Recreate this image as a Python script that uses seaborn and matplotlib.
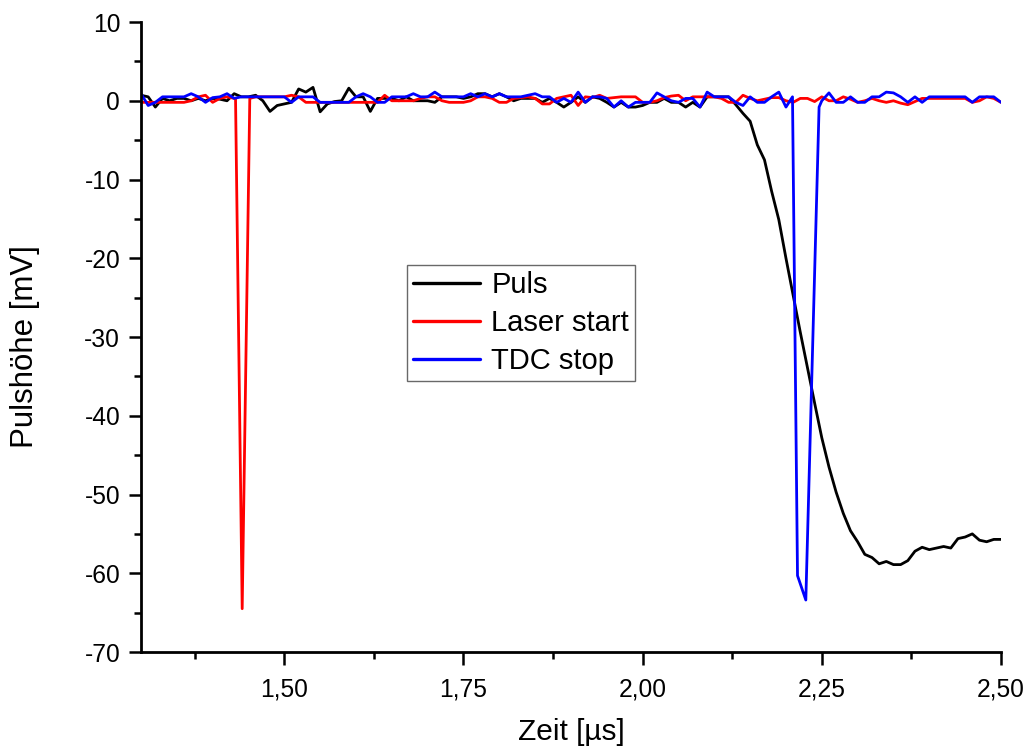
import numpy as np
import pandas as pd
import matplotlib
matplotlib.use("Agg")
import matplotlib.pyplot as plt
import seaborn as sns
from matplotlib.ticker import FuncFormatter, MultipleLocator

# sampling grid of the scope traces (µs)
T_START = 1.30
T_STEP = 0.01

# Puls (black), 1.30 ... 2.50 µs
puls = [
    0.7, 0.5, -0.8, 0.3, 0.0, 0.3, 0.3, 0.0, 0.3, 0.0,
    0.3, 0.2, 0.0, 0.9, 0.5, 0.5, 0.7, 0.0, -1.35, -0.6,
    -0.4, -0.2, 1.5, 1.1, 1.7, -1.4, -0.4, -0.1, 0.0, 1.6,
    0.5, 0.5, -1.35, 0.3, 0.3, 0.3, 0.0, 0.5, 0.0, 0.0,
    0.0, -0.2,
    0.5, 0.5, 0.5, 0.3, 0.5, 0.9, 0.9, 0.5, 0.9, 0.5,
    0.0, 0.3, 0.3, 0.3, -0.2, 0.3, -0.2, -0.8, -0.2, 0.5,
    -0.2, 0.5, 0.3, -0.2, -0.8, -0.2, -0.8, -0.8, -0.6, -0.2,
    -0.2, 0.3, -0.2, -0.2, -0.8, -0.2, -0.8, 0.5, 0.5, 0.5,
    0.5,
    -0.5, -1.6, -2.6, -5.6, -7.5, -11.5, -15.1, -20.0, -24.7, -29.4,
    -33.9, -38.4, -42.8, -46.5, -49.7, -52.4, -54.6, -56.0, -57.6, -58.0,
    -58.8, -58.5, -58.9, -58.9, -58.4, -57.2, -56.7, -57.0, -56.8, -56.6,
    -56.8, -55.6, -55.4, -55.0, -55.8, -56.0, -55.7, -55.7,
]

# Laser start (red); None where the spike samples below take over
laser = [
    -0.2, -0.2, -0.2, -0.2, -0.2, -0.2, -0.2, 0.0, 0.5, 0.7,
    -0.2, 0.3, 0.5, 0.3, None, None, 0.5, 0.5, 0.5, 0.5,
    0.5, 0.7, 0.5, -0.2, -0.2, -0.2, -0.2, -0.2, -0.2, -0.2,
    -0.2, -0.2, -0.2, -0.2, 0.7, 0.0, 0.0, 0.0, 0.0, 0.3,
    0.5, 0.5,
    0.0, -0.2, -0.2, -0.2, 0.0, 0.5, 0.5, 0.3, -0.2, -0.2,
    0.3, 0.4, 0.5, 0.3, -0.4, -0.4, 0.3, 0.5, 0.7, -0.6,
    0.5, 0.4, 0.7, 0.3, 0.4, 0.5, 0.5, 0.5, -0.2, -0.2,
    0.0, 0.4, 0.6, 0.7, 0.0, 0.5, 0.5, 0.5, 0.5, 0.3,
    -0.2,
    -0.2, 0.7, 0.3, 0.0, 0.2, 0.4, 0.4, 0.0, -0.2, 0.3,
    0.3, -0.1, 0.5, 0.0, 0.0, 0.5, 0.2, -0.2, 0.0, 0.3,
    0.0, -0.2, 0.0, -0.3, -0.5, -0.1, 0.3, 0.3, 0.3, 0.3,
    0.3, 0.3, 0.3, -0.2, 0.0, 0.5, 0.3, -0.2,
]
laser_spike_t = [1.4319, 1.4412, 1.4518]
laser_spike_v = [0.3, -64.5, 0.3]

# TDC stop (blue)
tdc = [
    0.9, -0.6, -0.2, 0.5, 0.5, 0.5, 0.5, 0.9, 0.5, -0.2,
    0.4, 0.5, 0.9, 0.3, 0.5, 0.5, 0.5, 0.5, 0.5, 0.5,
    0.5, -0.2, 0.5, 0.5, 0.5, -0.2, -0.2, -0.2, -0.2, -0.2,
    0.5, 0.9, 0.5, -0.2, -0.2, 0.5, 0.5, 0.5, 0.9, 0.5,
    0.5, 1.1,
    0.5, 0.5, 0.5, 0.5, 0.9, 0.5, 0.9, 0.5, 0.9, 0.5,
    0.5, 0.5, 0.7, 0.9, 0.5, 0.5, -0.2, 0.3, -0.2, 1.1,
    -0.2, 0.5, 0.5, 0.3, -0.8, 0.0, -0.8, -0.2, -0.2, -0.2,
    1.0, 0.5, 0.0, -0.2, 0.3, 0.3, -0.8, 1.1, 0.5, 0.5,
    0.5,
    -0.2, -0.6, 0.5, -0.2, -0.2, 0.5, 1.1, -0.8, None, None,
    None, None, 0.0, 1.0, -0.2, -0.2, 0.5, -0.2, -0.2, 0.5,
    0.5, 1.1, 1.0, 0.5, -0.2, 0.5, -0.2, 0.5, 0.5, 0.5,
    0.5, 0.5, 0.5, -0.2, 0.5, 0.5, 0.5, -0.2,
]
tdc_spike_t = [2.2091, 2.2161, 2.2277, 2.2462]
tdc_spike_v = [0.5, -60.3, -63.4, -0.8]

series_names = ["Puls", "Laser start", "TDC stop"]
series_colors = ["#000000", "#ff0000", "#0000ff"]


def trace(values, spike_t=(), spike_v=()):
    t = T_START + T_STEP * np.arange(len(values))
    v = np.array([np.nan if x is None else x for x in values], dtype=float)
    t = np.concatenate([t, spike_t])
    v = np.concatenate([v, spike_v])
    keep = ~np.isnan(v)
    order = np.argsort(t[keep])
    return t[keep][order], v[keep][order]


frames = []
for name, vals, st, sv in [
    ("Puls", puls, [], []),
    ("Laser start", laser, laser_spike_t, laser_spike_v),
    ("TDC stop", tdc, tdc_spike_t, tdc_spike_v),
]:
    t, v = trace(vals, st, sv)
    frames.append(pd.DataFrame({"Zeit": t, "Pulshoehe": v, "Signal": name}))
df = pd.concat(frames, ignore_index=True)

sns.set_style("ticks")
plt.rcParams["font.family"] = ["Liberation Sans", "DejaVu Sans"]
plt.rcParams["axes.unicode_minus"] = False
plt.rcParams["text.color"] = "black"
plt.rcParams["axes.labelcolor"] = "black"

fig = plt.figure(figsize=(10.24, 7.49), dpi=100)
ax = fig.add_axes([0.1377, 0.1295, 0.8398, 0.8411])

sns.lineplot(
    data=df,
    x="Zeit",
    y="Pulshoehe",
    hue="Signal",
    hue_order=series_names,
    palette=series_colors,
    estimator=None,
    sort=False,
    linewidth=2.0,
    ax=ax,
)

ax.set_xlim(1.30, 2.50)
ax.set_ylim(-70, 10)
ax.xaxis.set_major_locator(MultipleLocator(0.25))
ax.xaxis.set_minor_locator(MultipleLocator(0.125))
ax.yaxis.set_major_locator(MultipleLocator(10))
ax.yaxis.set_minor_locator(MultipleLocator(5))
ax.xaxis.set_major_formatter(FuncFormatter(lambda x, _: f"{x:.2f}".replace(".", ",")))
ax.yaxis.set_major_formatter(FuncFormatter(lambda y, _: f"{y:.0f}"))

ax.tick_params(which="major", length=9, width=1.8, labelsize=17.7, colors="black")
ax.tick_params(which="minor", length=5, width=1.8, colors="black")
ax.tick_params(axis="x", which="major", pad=9)
ax.tick_params(axis="y", which="major", pad=6)

for side in ["top", "right"]:
    ax.spines[side].set_visible(False)
for side in ["left", "bottom"]:
    ax.spines[side].set_linewidth(2.0)
    ax.spines[side].set_color("black")

ax.set_xlabel("Zeit [µs]", fontsize=21.5, color="black")
ax.set_ylabel("Pulshöhe [mV]", fontsize=22.5, color="black")
ax.xaxis.set_label_coords(0.5, -0.104)
ax.yaxis.set_label_coords(-0.118, 0.485)

leg = ax.legend(
    loc="upper left",
    bbox_to_anchor=(0.309, 0.614),
    borderaxespad=0,
    fontsize=21,
    handlelength=2.3,
    handletextpad=0.4,
    labelspacing=0.35,
    borderpad=0.2,
    fancybox=False,
    frameon=True,
)
leg.get_frame().set_edgecolor("#444444")
leg.get_frame().set_linewidth(1.0)
for text in leg.get_texts():
    text.set_color("black")
for line in leg.get_lines():
    line.set_linewidth(2.4)

fig.savefig("out.png", dpi=100)
